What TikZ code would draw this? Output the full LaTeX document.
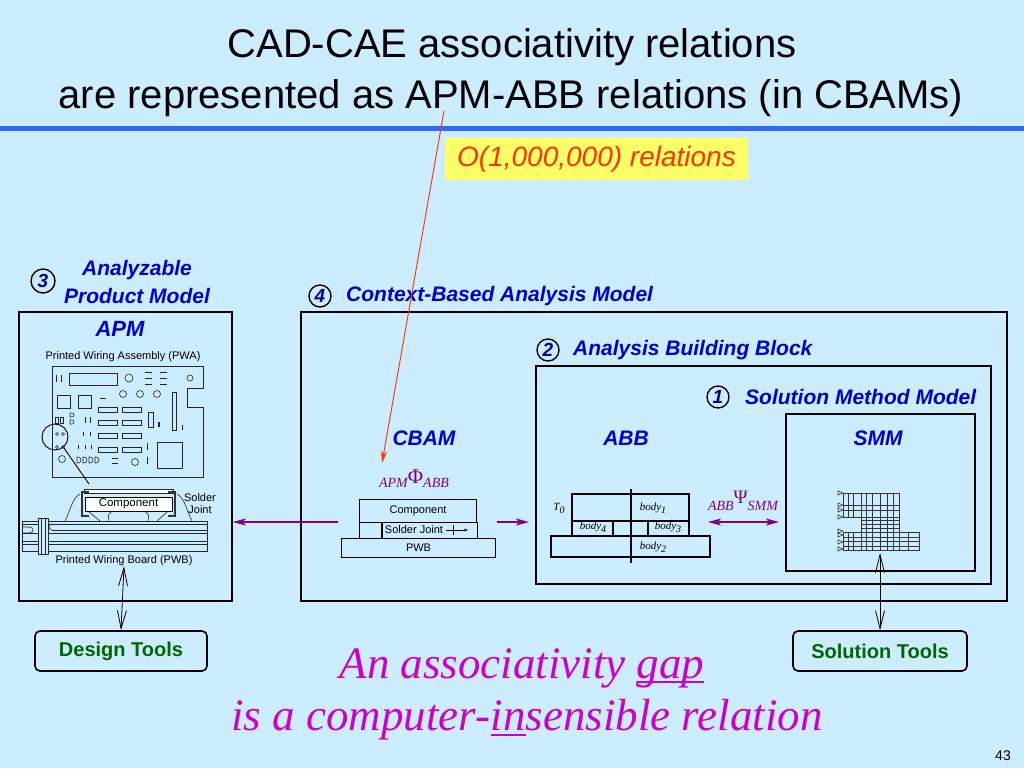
\documentclass[tikz,border=0pt]{standalone}
\usepackage{fontspec}
\setmainfont{Liberation Sans}
\newfontfamily\serif{Liberation Serif}
\usetikzlibrary{arrows.meta}
\definecolor{bg}{RGB}{204,236,255}
\definecolor{tblue}{RGB}{0,0,204}
\definecolor{rulec}{RGB}{51,102,255}
\definecolor{ylw}{RGB}{255,255,102}
\definecolor{redo}{RGB}{255,51,0}
\definecolor{purp}{RGB}{128,0,128}
\definecolor{mag}{RGB}{204,0,204}
\definecolor{dgreen}{RGB}{0,102,0}
\newcommand\fs[1]{\fontsize{#1}{#1}\selectfont}
\newcommand\myul[1]{\setbox0\hbox{#1}\rlap{\rule[-5pt]{\wd0}{1.6pt}}\box0}
\newcommand\sbs[1]{\raisebox{-3pt}{\fs{10}#1}}
\begin{document}
\begin{tikzpicture}[x=1pt,y=-1pt,
  lbl/.style={font=\bfseries\itshape\fs{21}, text=tblue, inner sep=0},
  numc/.style={circle, draw, line width=1.4pt, minimum size=22pt, inner sep=0, font=\bfseries\itshape\fs{19}, text=tblue!70!black},
  frame/.style={draw, line width=1.8pt, inner sep=0, anchor=north west},
  sm/.style={font=\fs{11}, inner sep=0},
  sl/.style={font=\serif\itshape\fs{11}, inner sep=0},
  tool/.style={draw, line width=1.6pt, rounded corners=5pt, minimum height=40pt, font=\bfseries\fs{20}, text=dgreen, inner sep=0},
  parr/.style={draw=purp, fill=purp, line width=1.4pt, -{Stealth[length=13pt,width=7pt,inset=3pt]}},
  pdarr/.style={draw=purp, fill=purp, line width=1.4pt, {Stealth[length=13pt,width=7pt,inset=3pt]}-{Stealth[length=13pt,width=7pt,inset=3pt]}},
  vbarb/.style={line width=0.8pt, {Straight Barb[length=18pt,width=9pt]}-{Straight Barb[length=18pt,width=9pt]}},
  stk/.style={draw, line width=1.1pt, inner sep=0, font=\fs{11}, anchor=north west},
  pcb/.style={line width=0.6pt, draw=black!85},
  mesh/.style={line width=0.6pt, draw=black!80},
]
\fill[bg] (0,0) rectangle (1024,768);
\useasboundingbox (0,0) rectangle (1024,768);

% title
\node[inner sep=0, font=\fs{40}] (t1) at (512,47) {CAD-CAE associativity relations};
\node[inner sep=0, font=\fs{40}] (t2) at (511,98) {are represented as APM-ABB relations (in CBAMs)};
\fill[rulec] (0,126) rectangle (1024,131);

% yellow note
\node[fill=ylw, minimum width=303pt, minimum height=42pt, inner sep=0, font=\itshape\fs{28}, text=redo] (note) at (596.5,159) {O(1,000,000) relations};

% APM box
\node[frame, minimum width=213pt, minimum height=289pt] (apm) at (18,311) {};
\node[numc, minimum size=24pt] (n3) at (43,281) {3};
\node[lbl] (az) at (137,270) {Analyzable};
\node[lbl] (pm) at (137,296) {Product Model};
\node[lbl, font=\bfseries\itshape\fs{22}] (apmt) at (120,329) {APM};
\node[sm] (pwa) at (123,357) {Printed Wiring Assembly (PWA)};

% PWA board
\begin{scope}[pcb]
\draw (52,366) -- (203,366) -- (203,388) -- (187,388) -- (187,407) -- (203,407) -- (203,477) -- (52,477) -- cycle;
\draw (56,375) -- (56,382); \draw (61,375) -- (61,382);
\draw (69,373) rectangle (117,385);
\draw (129,378) circle[radius=4];
\foreach \yy in {372,378,384}{\draw (145,\yy) -- (152,\yy); \draw (160,\yy) -- (167,\yy);}
\draw (190,378) circle[radius=3];
\draw (57,395) rectangle (70,408); \draw (78,395) rectangle (91,408);
\draw (100,398) -- (106,398);
\foreach \xx in {123,140,157}{\draw (\xx,394) circle[radius=3.5];}
\draw (172,392) rectangle (176,430);
\foreach \xx in {98,122}{\foreach \yy in {407,420,433,447}{\draw (\xx,\yy) rectangle (\xx+19,\yy+5);}}
\draw (148,412) rectangle (153,427);
\draw[line width=1.5pt] (159,422) -- (159,427);
\draw[line width=1pt] (182,425) -- (182,430);
\draw (157,442) rectangle (182,468);
\draw[line width=1pt] (147,443) -- (147,450); \draw[line width=1pt] (147,457) -- (147,464);
\draw (62,459) circle[radius=3.5];
\foreach \xx in {77,83,89,95}{\draw (\xx,457) -- (\xx+1,457) arc[start angle=-90,end angle=90,radius=3] -- (\xx,463) -- cycle;}
\draw (112,458) -- (118,458); \draw (112,463) -- (118,463);
\draw (135,462) circle[radius=3.5];
% left column
\draw (55,417) rectangle (58,423); \draw (60,417) rectangle (63,423);
\draw (70,413) -- (72,413) arc[start angle=-90,end angle=90,radius=2] -- (70,417) -- cycle;
\draw (70,420) -- (72,420) arc[start angle=-90,end angle=90,radius=2] -- (70,424) -- cycle;
\draw[line width=1pt] (85,417) -- (85,423); \draw[line width=1pt] (90,417) -- (90,423);
\draw (57,434) circle[radius=1.5]; \draw (63,434) circle[radius=1.5];
\draw[line width=1pt] (83,432) -- (83,436); \draw[line width=1pt] (90,432) -- (90,436);
\draw (57,447) circle[radius=1.5]; \draw (63,447) circle[radius=1.5];
\draw[line width=1pt] (78,445) -- (78,449); \draw[line width=1pt] (85,445) -- (85,449); \draw[line width=1pt] (91,445) -- (91,449);
\end{scope}
% magnifier
\draw[line width=0.9pt] (55,437) circle[radius=13];
\draw[line width=0.9pt] (64,448) -- (89,484);

% component assembly
\begin{scope}[pcb]
\draw[fill=white] (84,489) rectangle (173,493);
\draw (80,494) .. controls (72,498) and (70,512) .. (65,521);
\draw (177,494) .. controls (185,498) and (187,512) .. (192,521);
\draw (88,511) -- (100,521); \draw (168,511) -- (157,521);
\draw (113,511) .. controls (108,514) .. (109,521);
\draw (144,511) .. controls (149,514) .. (148,521);
\end{scope}
\node[draw, line width=0.6pt, fill=white, minimum width=87pt, minimum height=14pt, inner sep=0, font=\fs{11.5}] (pcomp) at (128.5,504) {Component};
\draw[line width=2.4pt, black!80] (89,492) -- (82,492) -- (82,516) -- (89,516);
\draw[line width=2.4pt, black!80] (168,492) -- (175,492) -- (175,516) -- (168,516);
\node[sm] (sj1) at (200,498) {Solder};
\node[sm] (sj2) at (200,510) {Joint};
% board
\begin{scope}[pcb]
\draw[fill=bg] (22,521) rectangle (207,551);
\foreach \yy in {524,533,541,544}{\draw (22,\yy) -- (207,\yy);}
\draw (52,530) -- (207,530);
\draw (52,524) arc[start angle=-90,end angle=-270,radius=3];
\draw[fill=bg] (38,518) rectangle (48,554);
\draw (41,518) -- (41,554); \draw (45,518) -- (45,554);
\draw (22,527) -- (30,527) arc[start angle=-90,end angle=90,radius=3] -- (22,533);
\end{scope}
\node[sm] (pwbt) at (124,561) {Printed Wiring Board (PWB)};

% CBAM box
\node[frame, minimum width=706pt, minimum height=289pt] (cbam) at (300,311) {};
\node[numc] (n4) at (320,296) {4};
\node[lbl, anchor=west] (cbaml) at (346,296) {Context-Based Analysis Model};
\node[lbl] (cbamt) at (424,438) {CBAM};
\node[inner sep=0, anchor=base, text=purp, font=\serif\itshape\fs{14}] (phi) at (414,487) {APM\raisebox{4pt}{\upshape\fs{21}Φ}ABB};
% CBAM stack
\node[stk, minimum width=117pt, minimum height=23pt] (cbc) at (359,499) {Component};
\node[stk, minimum width=118pt, minimum height=16pt] (cbs) at (359,522) {};
\draw[line width=1.1pt] (382,522) -- (382,538);
\node[sm] (cbsj) at (414,530) {Solder Joint};
\draw[line width=0.8pt] (453,525) -- (453,535);
\draw[line width=0.8pt, -{Stealth[length=4pt,width=3pt]}] (446,530) -- (468,530);
\node[stk, minimum width=154pt, minimum height=19pt] (cbp) at (341,538) {PWB};

% ABB box
\node[frame, minimum width=455pt, minimum height=218pt] (abb) at (535,365) {};
\node[numc] (n2) at (548,350) {2};
\node[lbl, anchor=west] (abbl) at (573,350) {Analysis Building Block};
\node[lbl] (abbt) at (626,438) {ABB};
\begin{scope}[line width=1.1pt]
\draw (572,494) rectangle (689,521);
\draw (572,521) rectangle (689,536);
\draw (613,521) -- (613,536); \draw (648,521) -- (648,536);
\draw (551,536) rectangle (710,557);
\draw (631,489) -- (631,563);
\end{scope}
\node[sl] (t0) at (559,508) {T\sbs{0}};
\node[sl] (b1) at (653,508) {body\sbs{1}};
\node[sl] (b4) at (593,527) {body\sbs{4}};
\node[sl] (b3) at (668,527) {body\sbs{3}};
\node[sl] (b2) at (653,547) {body\sbs{2}};
\node[inner sep=0, anchor=base, text=purp, font=\serif\itshape\fs{14}] (psi) at (743,510) {ABB\raisebox{7pt}{\upshape\fs{19}Ψ}SMM};

% SMM box
\node[frame, minimum width=189pt, minimum height=157pt] (smm) at (785,413) {};
\node[numc] (n1) at (718,397) {1};
\node[lbl, anchor=west] (smml) at (745,397) {Solution Method Model};
\node[lbl] (smmt) at (878,438) {SMM};
% mesh
\begin{scope}[mesh]
\draw (843,493) rectangle (899,517);
\draw (861,517) rectangle (899,532);
\draw (843,532) rectangle (919,550);
\foreach \xx in {848,853,861,866,872,880,887,893}{\draw (\xx,493) -- (\xx,517);}
\foreach \xx in {866,872,880,887,893}{\draw (\xx,517) -- (\xx,532);}
\foreach \xx in {848,853,861,866,872,880,887,893,899,908}{\draw (\xx,532) -- (\xx,550);}
\foreach \yy in {505,510}{\draw (843,\yy) -- (899,\yy);}
\foreach \yy in {520,524,528}{\draw (861,\yy) -- (899,\yy);}
\foreach \yy in {537,541,546}{\draw (843,\yy) -- (919,\yy);}
\foreach \yy in {493,505,510,517,531,535,542,549}{\draw (838,\yy-2) -- (843,\yy) -- (838,\yy+2) -- cycle;}
\end{scope}
\coordinate (meshb) at (880,553);

% tools
\node[tool, minimum width=172pt] (dt) at (121,651) {Design Tools};
\node[tool, minimum width=174pt] (st) at (880,651) {Solution Tools};
\draw[vbarb] (dt.north) -- (pwbt.south);
\draw[vbarb] (st.north) -- (meshb);

% purple arrows
\coordinate (la) at (338,522);
\draw[parr] (la) -- (la -| apm.east);
\coordinate (ra1) at (497,522);
\coordinate (ra2) at (529,522);
\draw[parr] (ra1) -- (ra2);
\coordinate (da1) at (708,522);
\coordinate (da2) at (779,522);
\draw[pdarr] (da1) -- (da2);

% red pointer
\coordinate (rt) at (444,111);
\coordinate (rb) at (382,463);
\draw[redo, fill=redo, line width=0.9pt, -{Stealth[length=12pt,width=6pt]}] (rt) -- (rb);

% bottom text
\node[inner sep=0, text=mag, font=\serif\itshape\fs{45}] (gap1) at (522,668) {An associativity \myul{gap}};
\node[inner sep=0, text=mag, font=\serif\itshape\fs{45}] (gap2) at (527,720) {is a computer-\myul{in}sensible relation};
\node[inner sep=0, font=\fs{14}] (pg) at (1003,756) {43};
\end{tikzpicture}
\end{document}
